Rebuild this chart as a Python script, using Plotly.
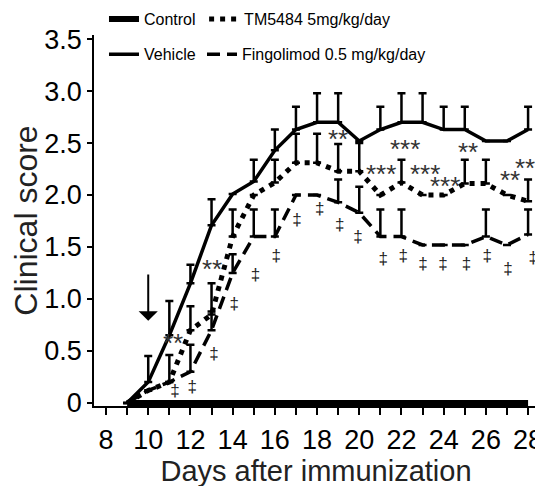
import plotly.graph_objects as go

# days after immunization
days = list(range(9, 29))

control = [0] * 20
vehicle = [0, 0.2, 0.65, 1.15, 1.71, 2.01, 2.13, 2.43, 2.63, 2.7,
           2.7, 2.52, 2.63, 2.7, 2.7, 2.63, 2.63, 2.52, 2.52, 2.63]
vehicle_se = [None, 0.25, 0.33, 0.18, 0.25, None, 0.21, 0.2, 0.22, 0.28,
              0.28, None, 0.22, 0.28, 0.28, 0.22, 0.22, None, None, 0.22]
tm5484 = [0, 0.12, 0.2, 0.7, 0.85, 1.6, 2.0, 2.12, 2.31, 2.31,
          2.23, 2.23, 2.0, 2.12, 2.0, 2.0, 2.11, 2.11, 2.0, 1.94]
tm5484_se = [None, None, 0.26, 0.23, 0.3, 0.26, None, 0.22, 0.28, 0.28,
             0.26, 0.27, None, 0.22, None, None, 0.23, 0.23, None, 0.21]
fingo = [0, 0.12, 0.2, 0.3, 0.7, 1.25, 1.6, 1.6, 2.0, 2.0,
         1.93, 1.83, 1.6, 1.6, 1.52, 1.52, 1.52, 1.6, 1.52, 1.62]
fingo_se = [None, None, None, 0.26, 0.18, 0.18, 0.26, 0.26, None, None,
            0.22, 0.25, 0.26, 0.26, None, None, None, 0.26, None, 0.24]

# significance marks vs vehicle
star_x = [11.18, 13.02, 19.0, 21.03, 22.17, 23.12, 24.07, 25.16, 27.12, 28.1]
star_y = [0.58, 1.29, 2.54, 2.2, 2.44, 2.2, 2.09, 2.41, 2.14, 2.26]
star_txt = ["**", "**", "**", "***", "***", "***", "***", "**", "**", "***"]

dag_x = [11.27, 12.08, 13.12, 14.07, 15.08, 16.07, 17.05, 18.13, 19.08, 19.94,
         21.13, 22.08, 23.02, 23.97, 25.08, 26.07, 27.05, 28.24]
dag_y = [0.11, 0.15, 0.46, 0.94, 1.22, 1.41, 1.75, 1.86, 1.7, 1.59,
         1.38, 1.41, 1.33, 1.33, 1.33, 1.41, 1.28, 1.39]

x_ticks = list(range(8, 29))
x_labels = [str(d) if d % 2 == 0 else "" for d in x_ticks]
y_ticks = [0, 0.5, 1.0, 1.5, 2.0, 2.5, 3.0, 3.5]
y_labels = ["0", "0.5", "1.0", "1.5", "2.0", "2.5", "3.0", "3.5"]

FONT = "Liberation Sans, Arial, sans-serif"

fig = go.Figure()

fig.add_trace(go.Scatter(
    x=days, y=vehicle, name="Vehicle", mode="lines",
    line=dict(color="black", width=3.5),
    error_y=dict(type="data", array=vehicle_se, symmetric=False,
                 arrayminus=[0] * 20, color="black", thickness=2.5, width=4),
    legend="legend3"
))
fig.add_trace(go.Scatter(
    x=days, y=tm5484, name="TM5484 5mg/kg/day", mode="lines",
    line=dict(color="black", width=5, dash="5px,6px"),
    error_y=dict(type="data", array=tm5484_se, symmetric=False,
                 arrayminus=[0] * 20, color="black", thickness=2.5, width=4),
    legend="legend2"
))
fig.add_trace(go.Scatter(
    x=days, y=fingo, name="Fingolimod 0.5 mg/kg/day", mode="lines",
    line=dict(color="black", width=3.5, dash="13px,7px"),
    error_y=dict(type="data", array=fingo_se, symmetric=False,
                 arrayminus=[0] * 20, color="black", thickness=2.5, width=4),
    legend="legend4"
))
fig.add_trace(go.Scatter(
    x=days, y=control, name="Control", mode="lines",
    line=dict(color="black", width=6),
    legend="legend"
))

fig.add_trace(go.Scatter(
    x=dag_x, y=dag_y, text=["‡"] * len(dag_x), mode="text", showlegend=False,
    textfont=dict(size=17, color="#222222", family=FONT), cliponaxis=False
))

# stars as annotations so the last group may run past the plot edge
for sx, sy, st in zip(star_x, star_y, star_txt):
    fig.add_annotation(x=sx, y=sy, xref="x", yref="y", text=st, showarrow=False,
                       font=dict(size=26, color="#333333", family=FONT))

# arrow marking treatment start
fig.add_annotation(x=10, y=0.79, ax=10, ay=1.25, xref="x", yref="y",
                   axref="x", ayref="y", text="", showarrow=True,
                   arrowhead=1, arrowsize=1.6, arrowwidth=2, arrowcolor="black")

leg = dict(orientation="h", xanchor="left", yanchor="middle",
           font=dict(size=16, family=FONT, color="black"),
           bgcolor="rgba(0,0,0,0)", itemwidth=30)

fig.update_layout(
    width=543, height=486,
    margin=dict(l=86, r=13, t=27, b=88, autoexpand=False),
    paper_bgcolor="white", plot_bgcolor="white",
    font=dict(family=FONT, color="black"),
    legend=dict(leg, x=0.0225, y=1.0426),
    legend2=dict(leg, x=0.248, y=1.0426),
    legend3=dict(leg, x=0.0225, y=0.948),
    legend4=dict(leg, x=0.2432, y=0.948),
    xaxis=dict(range=[7.43, 28.47], tickvals=x_ticks, ticktext=x_labels,
               ticks="outside", ticklen=7, tickwidth=1.5, tickcolor="black",
               ticklabelstandoff=2,
               showline=True, linecolor="black", linewidth=1.5,
               showgrid=False, zeroline=False,
               tickfont=dict(size=27, family=FONT, color="black"),
               title=dict(text="Days after immunization", standoff=0,
                          font=dict(size=29, family=FONT, color="#222222"))),
    yaxis=dict(range=[-0.03, 3.54], tickvals=y_ticks, ticktext=y_labels,
               ticks="outside", ticklen=5, tickwidth=1.5, tickcolor="black",
               showline=True, linecolor="black", linewidth=1.5,
               showgrid=False, zeroline=False,
               tickfont=dict(size=27, family=FONT, color="black"),
               title=dict(text="Clinical score", standoff=5,
                          font=dict(size=32, family=FONT, color="#222222"))),
)

fig.write_html("out.html")
